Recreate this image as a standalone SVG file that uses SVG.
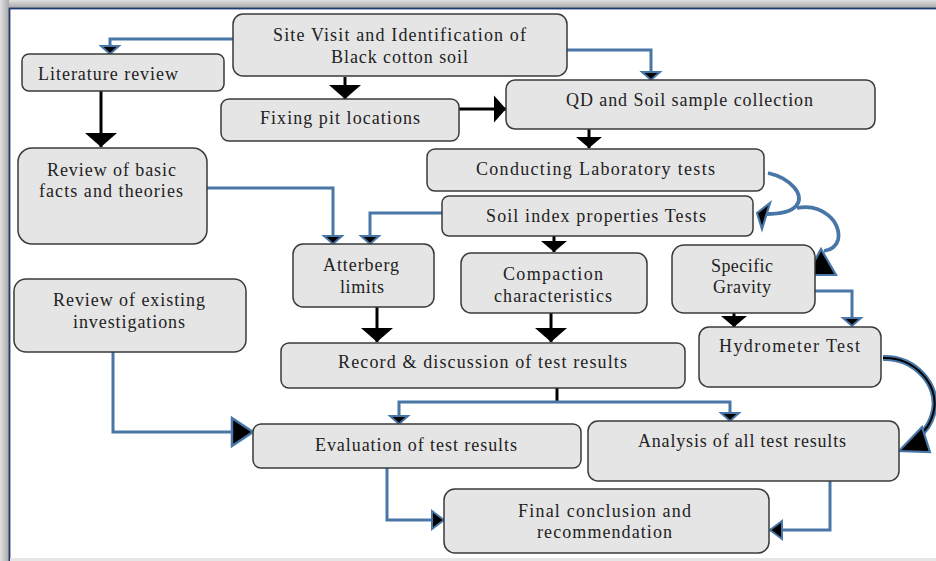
<svg xmlns="http://www.w3.org/2000/svg" width="936" height="561" viewBox="0 0 936 561">
<defs>
<style>
.box{fill:#e5e5e5;stroke:#3a3a3a;stroke-width:1.5}
.t{font-family:"Liberation Serif","Times New Roman",serif;font-size:18px;fill:#222;text-anchor:middle}
.bl{fill:none;stroke:#4876a6;stroke-width:3}
.cv{fill:none;stroke:#4876a6;stroke-width:3.8}
.bk{fill:none;stroke:#000;stroke-width:3}
.hd{fill:#000;stroke:#4876a6;stroke-width:2.2;stroke-linejoin:miter}
</style>
<linearGradient id="gt" x1="0" y1="0" x2="0" y2="1"><stop offset="0" stop-color="#e0e0e0"/><stop offset="1" stop-color="#a8a8a8"/></linearGradient>
<linearGradient id="gl" x1="0" y1="0" x2="1" y2="0"><stop offset="0" stop-color="#e0e0e0"/><stop offset="1" stop-color="#a8a8a8"/></linearGradient>
<marker id="abs" markerUnits="userSpaceOnUse" markerWidth="12" markerHeight="22" refX="8" refY="9" orient="auto" overflow="visible"><path d="M0,0 L8,9 L0,18 z" fill="#000" stroke="#4876a6" stroke-width="2"/></marker>
<marker id="abm" markerUnits="userSpaceOnUse" markerWidth="16" markerHeight="22" refX="12" refY="9" orient="auto" overflow="visible"><path d="M0,0 L12,9 L0,18 z" fill="#000" stroke="#4876a6" stroke-width="2"/></marker>
<marker id="abl" markerUnits="userSpaceOnUse" markerWidth="26" markerHeight="34" refX="21" refY="14" orient="auto" overflow="visible"><path d="M0,0 L21,14 L0,28 z" fill="#000" stroke="#4876a6" stroke-width="2.5"/></marker>
<marker id="kb" markerUnits="userSpaceOnUse" markerWidth="18" markerHeight="34" refX="14" refY="16" orient="auto" overflow="visible"><path d="M0,0 L14,16 L0,32 z" fill="#000"/></marker>
<marker id="kh" markerUnits="userSpaceOnUse" markerWidth="16" markerHeight="30" refX="12" refY="13.5" orient="auto" overflow="visible"><path d="M0,0 L12,13.5 L0,27 z" fill="#000"/></marker>
<marker id="ks" markerUnits="userSpaceOnUse" markerWidth="14" markerHeight="30" refX="11" refY="13" orient="auto" overflow="visible"><path d="M0,0 L11,13 L0,26 z" fill="#000"/></marker>
</defs>
<rect x="0" y="0" width="936" height="561" fill="#fff"/>
<rect x="0" y="0" width="936" height="8" fill="url(#gt)"/>
<rect x="0" y="0" width="9" height="561" fill="url(#gl)"/>
<rect x="9.5" y="8.5" width="940" height="560" fill="#fff" stroke="#1f3a6e" stroke-width="1.8"/>
<rect x="10" y="558" width="926" height="3" fill="#e6e6e6"/>

<g id="connectors">
<path class="bl" d="M239,39 H110 V54" marker-end="url(#abs)"/>
<path class="bl" d="M564,50 H651 V80" marker-end="url(#abs)"/>
<path class="bl" d="M204,188 H333 V244" marker-end="url(#abs)"/>
<path class="bl" d="M447,213 H370 V244" marker-end="url(#abs)"/>
<path class="bl" d="M811,291 H852 V326" marker-end="url(#abs)"/>
<path class="bk" d="M557,388 V402"/>
<path class="bl" d="M557,402 H399 V424" marker-end="url(#abs)"/>
<path class="bl" d="M557,402 H730 V421" marker-end="url(#abs)"/>
<path class="bl" d="M113,347 V432 H253" marker-end="url(#abl)"/>
<path class="bl" d="M387,468 V520 H444" marker-end="url(#abm)"/>
<path class="bl" d="M830,477 V530 H770" marker-end="url(#abm)"/>
<path class="bk" d="M345,77 V99" marker-end="url(#kb)"/>
<path class="bk" d="M101,91 V147" marker-end="url(#kb)"/>
<path class="bk" d="M459,109 H506" marker-end="url(#kh)"/>
<path class="bk" d="M589,129 V148" marker-end="url(#ks)"/>
<path class="bk" d="M554,236 V252" marker-end="url(#ks)"/>
<path class="bk" d="M377,307 V342" marker-end="url(#kb)"/>
<path class="bk" d="M551,313 V342" marker-end="url(#kb)"/>
<path class="bk" d="M734,313 V327" marker-end="url(#ks)"/>
<path class="cv" d="M768,173 C790,178 806,195 796,206 C790,213 778,214 766,214"/>
<polygon class="hd" points="757,213 770,203 762,229"/>
<path class="cv" d="M797,208 C822,203 842,222 838,240 C836,247 830,250 824,251"/>
<polygon class="hd" points="821,249 807,275 836,275"/>
<path fill="none" stroke="#4876a6" stroke-width="6" d="M883,358 C915,357 939,385 934,410 C931,424 925,431 917,438"/>
<path fill="none" stroke="#000" stroke-width="2" d="M883,358 C915,357 939,385 934,410 C931,424 925,431 917,438"/>
<polygon class="hd" points="899,451 922,427 930,452"/>
</g>

<g id="site-visit"><rect class="box" x="233" y="14" width="334" height="62" rx="10"/>
<text class="t" x="399.5" y="41" textLength="253" lengthAdjust="spacing">Site Visit and Identification of</text>
<text class="t" x="399.5" y="63" textLength="137" lengthAdjust="spacing">Black cotton soil</text></g>

<g id="literature-review"><rect class="box" x="22" y="54" width="202" height="37" rx="7"/>
<text class="t" x="108" y="80" textLength="140" lengthAdjust="spacing">Literature review</text></g>

<g id="fixing-pit"><rect class="box" x="221" y="99" width="238" height="42" rx="8"/>
<text class="t" x="340" y="124" textLength="160" lengthAdjust="spacing">Fixing pit locations</text></g>

<g id="qd-soil-sample"><rect class="box" x="506" y="80" width="369" height="49" rx="9"/>
<text class="t" x="689.5" y="106" textLength="247" lengthAdjust="spacing">QD and Soil sample collection</text></g>

<g id="conducting-lab"><rect class="box" x="427" y="149" width="337" height="42" rx="8"/>
<text class="t" x="595.5" y="175" textLength="239" lengthAdjust="spacing">Conducting Laboratory tests</text></g>

<g id="soil-index"><rect class="box" x="442" y="196" width="311" height="40" rx="7"/>
<text class="t" x="596" y="222" textLength="220" lengthAdjust="spacing">Soil index properties Tests</text></g>

<g id="review-basic"><rect class="box" x="18" y="148" width="189" height="96" rx="14"/>
<text class="t" x="111.5" y="176" textLength="129" lengthAdjust="spacing">Review of basic</text>
<text class="t" x="111" y="197" textLength="144" lengthAdjust="spacing">facts and theories</text></g>

<g id="atterberg"><rect class="box" x="293" y="244" width="141" height="63" rx="10"/>
<text class="t" x="361" y="271" textLength="76" lengthAdjust="spacing">Atterberg</text>
<text class="t" x="362" y="293" textLength="44" lengthAdjust="spacing">limits</text></g>

<g id="compaction"><rect class="box" x="461" y="253" width="186" height="60" rx="10"/>
<text class="t" x="553" y="280" textLength="100" lengthAdjust="spacing">Compaction</text>
<text class="t" x="553" y="302" textLength="118" lengthAdjust="spacing">characteristics</text></g>

<g id="specific-gravity"><rect class="box" x="672" y="245" width="143" height="68" rx="12"/>
<text class="t" x="742" y="272" textLength="62" lengthAdjust="spacing">Specific</text>
<text class="t" x="742" y="293" textLength="58" lengthAdjust="spacing">Gravity</text></g>

<g id="review-existing"><rect class="box" x="14" y="279" width="232" height="73" rx="12"/>
<text class="t" x="129" y="306" textLength="152" lengthAdjust="spacing">Review of existing</text>
<text class="t" x="129" y="328" textLength="112" lengthAdjust="spacing">investigations</text></g>

<g id="record-discussion"><rect class="box" x="281" y="343" width="404" height="45" rx="8"/>
<text class="t" x="482.5" y="368" textLength="289" lengthAdjust="spacing">Record &amp; discussion of test results</text></g>

<g id="hydrometer"><rect class="box" x="699" y="327" width="182" height="60" rx="10"/>
<text class="t" x="789.5" y="352" textLength="141" lengthAdjust="spacing">Hydrometer Test</text></g>

<g id="evaluation"><rect class="box" x="253" y="424" width="328" height="44" rx="8"/>
<text class="t" x="416" y="451" textLength="202" lengthAdjust="spacing">Evaluation of test results</text></g>

<g id="analysis"><rect class="box" x="588" y="421" width="311" height="60" rx="10"/>
<text class="t" x="742" y="447" textLength="208" lengthAdjust="spacing">Analysis of all test results</text></g>

<g id="final-conclusion"><rect class="box" x="444" y="489" width="325" height="64" rx="11"/>
<text class="t" x="604.5" y="517" textLength="173" lengthAdjust="spacing">Final conclusion and</text>
<text class="t" x="604.5" y="538" textLength="135" lengthAdjust="spacing">recommendation</text></g>
</svg>
